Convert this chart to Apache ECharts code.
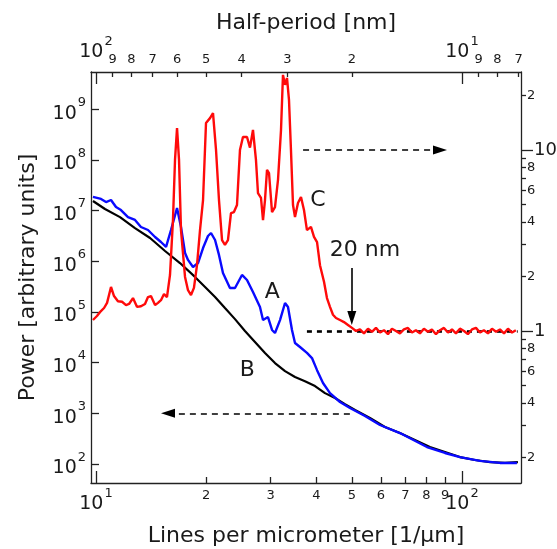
<!DOCTYPE html>
<html><head><meta charset="utf-8">
<script src="https://cdn.jsdelivr.net/npm/echarts@6/dist/echarts.min.js"></script>
<style>html,body{margin:0;padding:0;background:#fff}#c{width:557px;height:549px}</style>
</head><body><div id="c"></div>
<script>
// ---- data (lines per micrometer, power) ----
const blackX = [9.81,10.58,11.63,12.78,14.05,15.44,16.96,18.64,19.86,21.15,22.51,23.98,25.53,27.19,28.96,30.84,32.85,34.98,37.24,39.67,42.24,44.98,47.90,51.03,56.06,61.60,67.69,74.38,81.75,89.87,98.74,108.5,119.3,131.1,142.2];
const blackY = [1.54e7,1.07e7,7.4e6,4.5e6,2.87e6,1.59e6,9.2e5,4.9e5,3.1e5,1.97e5,1.19e5,7.2e4,4.2e4,2.55e4,1.55e4,9.8e3,6.8e3,5.2e3,4.3e3,3.45e3,2.5e3,2.0e3,1.52e3,1.16e3,807,537,408,297,216,172,137,120,109,105,109];

const blueX = [9.81,10.32,10.65,10.99,11.34,11.70,12.23,12.78,13.27,13.87,14.50,15.05,15.54,16.03,16.65,17.07,17.51,17.84,18.41,19.00,19.61,20.23,20.62,21.15,21.68,22.23,23.23,23.98,25.06,25.86,26.85,28.06,28.60,29.51,30.27,30.84,31.83,32.85,33.47,34.32,34.98,36.09,37.71,38.92,40.18,41.72,43.59,46.42,49.43,54.33,59.70,67.69,80.23,89.87,98.74,112.0,127.0,141.3];
const blueY = [1.85e7,1.69e7,1.47e7,1.61e7,1.17e7,1.02e7,7.4e6,6.5e6,4.73e6,4.12e6,3.0e6,2.39e6,1.91e6,4.12e6,1.12e7,4.73e6,1.45e6,1.06e6,7.7e5,9.2e5,1.82e6,3.14e6,3.6e6,2.62e6,1.33e6,5.85e5,2.96e5,2.96e5,5.35e5,4.26e5,2.47e5,1.25e5,6.9e4,7.9e4,4.4e4,3.84e4,6.9e4,1.5e5,1.25e5,4.4e4,2.44e4,2.03e4,1.55e4,1.23e4,7.1e3,3.96e3,2.5e3,1.67e3,1.27e3,885,588,408,216,165,137,115,105,105];

const redX = [9.81,10.06,10.25,10.52,10.72,10.99,11.20,11.48,11.78,12.08,12.31,12.62,12.94,13.27,13.61,13.87,14.13,14.50,14.77,15.05,15.34,15.63,15.93,16.23,16.44,16.65,16.86,17.07,17.51,17.84,18.18,18.52,18.88,19.24,19.61,19.98,20.49,20.88,21.28,21.68,22.10,22.51,22.94,23.38,23.82,24.28,24.74,25.21,25.86,26.35,26.85,27.36,27.71,28.24,28.60,28.96,29.33,29.70,30.27,30.84,31.43,32.03,32.43,32.85,33.26,33.68,34.10,34.54,34.98,35.64,36.32,37.01,37.71,38.67,39.42,40.18,40.93,41.98,42.77,43.59,44.42,45.27,46.42,47.60,48.81,50.06,51.34,
  52.64,53.98,55.36,56.77,58.21,59.70,61.22,62.78,64.38,66.02,67.69,69.41,71.19,73.00,74.86,76.76,78.72,80.73,82.78,84.92,87.09,89.30,91.57,93.91,96.30,98.74,101.3,103.8,106.5,109.2,112.0,114.8,117.8,120.8,123.9,127.0,130.3,133.6,137.0,140.4];
const redY = [1.15,1.21,1.27,1.34,1.43,1.75,1.56,1.46,1.45,1.39,1.41,1.52,1.36,1.37,1.41,1.54,1.56,1.39,1.43,1.48,1.60,1.54,2.04,4.10,8.81,13.2,8.81,3.61,1.99,1.68,1.58,1.73,2.31,3.61,5.29,14.1,15.0,16.0,10.0,5.29,3.18,2.99,3.18,4.48,4.54,4.97,10.0,11.8,11.8,10.3,12.9,8.81,5.78,5.43,4.10,5.29,7.76,7.46,4.54,4.84,6.83,12.9,26.0,22.9,25.0,18.9,10.0,4.97,4.26,5.10,5.50,4.66,3.61,3.76,3.31,3.10,2.31,1.87,1.52,1.36,1.23,1.18,1.15,1.12,1.08,1.04,1.00,
  1.02,0.97,1.03,0.99,1.04,0.98,1.01,0.96,1.03,1.00,0.97,1.02,1.04,0.98,1.01,0.97,1.03,0.99,1.02,0.96,1.01,1.04,0.98,1.02,0.97,1.03,1.00,0.96,1.02,1.04,0.98,1.01,0.97,1.03,0.99,1.02,0.97,1.03,0.98,1.01];

// ---- axes ----
const xRange = [9.69, 145];
const leftRange = [42.2, 5.39e9];
const rightRange = [0.1446, 26.97];
const bottomMinorTicks = [20,30,40,50,60,70,80,90];
const bottomMajorTicks = [10,100];
const topMinorHalfPeriods = [90,80,70,60,50,40,30,20,9,8,7];
const topMajorHalfPeriods = [100,10];
const leftTicks = [1e2,1e3,1e4,1e5,1e6,1e7,1e8,1e9];
const rightMinorTicks = [20,9,8,7,6,5,4,3,2,0.9,0.8,0.7,0.6,0.5,0.4,0.3,0.2];
const rightMinorLabels = [20,8,6,4,2,0.8,0.6,0.4,0.2];
const rightMajorTicks = [10,1];

// ---- annotations ----
const rightArrowX = [36.8, 87.1], rightArrowY = 10;
const leftArrowX = [49.4, 15.73], leftArrowY = 1000;
const unityLineX = [37.7, 142], unityLineY = 1;
const markerArrowX = 50, markerArrowY = [2.23, 1.18];
const labelA = {x: 30.3, y: 2.47e5, text: 'A'};
const labelB = {x: 25.9, y: 7.1e3, text: 'B'};
const labelC = {x: 40.4, y: 5.3, text: 'C'};
const label20 = {x: 54.3, y: 2.80, text: '20 nm'};

const L = Math.log10;
const FONT = 'DejaVu Sans';
const TXT = '#1a1a1a';
const AX = {color: '#222', width: 1.3};
const pts = (xs, ys) => xs.map((x, i) => [L(x), L(ys[i])]);
const supRich = {
  b: {fontSize: 19, fontFamily: FONT, color: TXT, lineHeight: 22, verticalAlign: 'bottom'},
  s: {fontSize: 13, fontFamily: FONT, color: TXT, lineHeight: 13, padding: [0, 0, 14, 1], verticalAlign: 'bottom'}
};
const firstDigit = v => { const d = Math.pow(10, v); const e = Math.floor(v + 1e-9); return String(Math.round(d / Math.pow(10, e))); };

function xAx(pos, tickVals, labelVals, len, fmt, extra) {
  return Object.assign({
    type: 'value', position: pos, min: L(xRange[0]), max: L(xRange[1]),
    axisLine: {show: true, onZero: false, lineStyle: AX},
    axisTick: {show: true, inside: true, length: len, customValues: tickVals, lineStyle: AX},
    axisLabel: {show: true, customValues: labelVals, formatter: fmt, fontFamily: FONT, color: TXT, fontSize: 13, margin: 6},
    splitLine: {show: false}
  }, extra || {});
}
function yAx(pos, range, tickVals, labelVals, len, inside, fmt, extra) {
  return Object.assign({
    type: 'value', position: pos, min: L(range[0]), max: L(range[1]),
    axisLine: {show: true, onZero: false, lineStyle: AX},
    axisTick: {show: true, inside: inside, length: len, customValues: tickVals, lineStyle: AX},
    axisLabel: {show: true, customValues: labelVals, formatter: fmt, fontFamily: FONT, color: TXT, fontSize: 13, margin: 6},
    splitLine: {show: false}
  }, extra || {});
}

const xAxes = [
  xAx('bottom', bottomMinorTicks.map(L), bottomMinorTicks.map(L), 6, v => String(Math.round(Math.pow(10, v) / 10)), {
    name: 'Lines per micrometer [1/\u00b5m]', nameLocation: 'middle', nameGap: 42,
    nameTextStyle: {fontFamily: FONT, fontSize: 22, color: TXT}
  }),
  xAx('bottom', bottomMajorTicks.map(L), bottomMajorTicks.map(L), 12, v => '{b|10}{s|' + Math.round(v) + '}', {}),
  xAx('top', topMinorHalfPeriods.map(h => L(1000 / h)), topMinorHalfPeriods.map(h => L(1000 / h)), 5, v => {
    const h = 1000 / Math.pow(10, v); return String(h >= 10 ? Math.round(h / 10) : Math.round(h));
  }, {
    name: 'Half-period [nm]', nameLocation: 'middle', nameGap: 38,
    nameTextStyle: {fontFamily: FONT, fontSize: 22, color: TXT}
  }),
  xAx('top', topMajorHalfPeriods.map(h => L(1000 / h)), topMajorHalfPeriods.map(h => L(1000 / h)), 12, v => {
    const h = 1000 / Math.pow(10, v); return '{b|10}{s|' + Math.round(L(h)) + '}';
  }, {})
];
xAxes[1].axisLabel.rich = supRich; xAxes[1].axisLabel.margin = 9; xAxes[1].axisLine.show = false;
xAxes[3].axisLabel.rich = supRich; xAxes[3].axisLabel.margin = 10; xAxes[3].axisLine.show = false;

const yAxes = [
  yAx('left', leftRange, leftTicks.map(L), leftTicks.map(L), 8, true, v => '{b|10}{s|' + Math.round(v) + '}', {
    name: 'Power [arbitrary units]', nameLocation: 'middle', nameGap: 52, nameRotate: 90,
    nameTextStyle: {fontFamily: FONT, fontSize: 22, color: TXT}
  }),
  yAx('right', rightRange, rightMinorTicks.map(L), rightMinorLabels.map(L), 5, false, firstDigit, {}),
  yAx('right', rightRange, rightMajorTicks.map(L), rightMajorTicks.map(L), 12, false, v => String(Math.round(Math.pow(10, v))), {})
];
yAxes[0].axisLabel.rich = supRich; yAxes[0].axisLabel.margin = 5; yAxes[0].axisLabel.padding = [6, 0, 0, 0];
yAxes[1].axisLabel.margin = 6;
yAxes[2].axisLabel.margin = 13; yAxes[2].axisLabel.fontSize = 18; yAxes[2].axisLine.show = false;

const textMark = (o) => ({coord: [L(o.x), L(o.y)], name: o.text, value: o.text});
const markLabel = {show: true, position: 'inside', formatter: p => p.name, fontFamily: FONT, fontSize: 22, color: TXT};

const option = {
  animation: false,
  grid: {left: 91, right: 36, top: 72, bottom: 66, containLabel: false, outerBoundsMode: 'none'},
  xAxis: xAxes,
  yAxis: yAxes,
  series: [
    {type: 'line', name: 'B', xAxisIndex: 0, yAxisIndex: 0, data: pts(blackX, blackY), symbol: 'none',
      lineStyle: {color: '#000', width: 2.2}, z: 3,
      markLine: {silent: true, animation: false, label: {show: false}, symbol: ['none', 'triangle'], symbolSize: [9, 14],
        lineStyle: {color: '#000', width: 1.5, type: [6, 5]},
        data: [[{coord: [L(leftArrowX[0]), L(leftArrowY)]}, {coord: [L(leftArrowX[1]), L(leftArrowY)]}]]},
      markPoint: {symbol: 'circle', symbolSize: 0, label: markLabel, data: [textMark(labelB)]}
    },
    {type: 'line', name: 'A', xAxisIndex: 0, yAxisIndex: 0, data: pts(blueX, blueY), symbol: 'none',
      lineStyle: {color: '#0a0aff', width: 2.4}, z: 4,
      markPoint: {symbol: 'circle', symbolSize: 0, label: markLabel, data: [textMark(labelA)]}
    },
    {type: 'line', name: 'C', xAxisIndex: 0, yAxisIndex: 1, data: pts(redX, redY), symbol: 'none',
      lineStyle: {color: '#ff0a0a', width: 2.4}, z: 5,
      markLine: {silent: true, animation: false, label: {show: false}, symbol: ['none', 'triangle'], symbolSize: [9, 14],
        lineStyle: {color: '#000', width: 1.5, type: [6, 5]},
        data: [
          [{coord: [L(rightArrowX[0]), L(rightArrowY)]}, {coord: [L(rightArrowX[1]), L(rightArrowY)]}],
          [{coord: [L(markerArrowX), L(markerArrowY[0])], lineStyle: {type: 'solid', width: 1.6, color: '#000'}}, {coord: [L(markerArrowX), L(markerArrowY[1])]}],
          [{coord: [L(unityLineX[0]), L(unityLineY)], symbol: 'none', lineStyle: {type: [5, 5], width: 2.6, color: '#000'}}, {coord: [L(unityLineX[1]), L(unityLineY)], symbol: 'none'}]
        ]},
      markPoint: {symbol: 'circle', symbolSize: 0, label: markLabel, data: [textMark(labelC), textMark(label20)]}
    }
  ]
};
echarts.init(document.getElementById('c'), null, {renderer: 'canvas'}).setOption(option);
</script>
</body></html>
